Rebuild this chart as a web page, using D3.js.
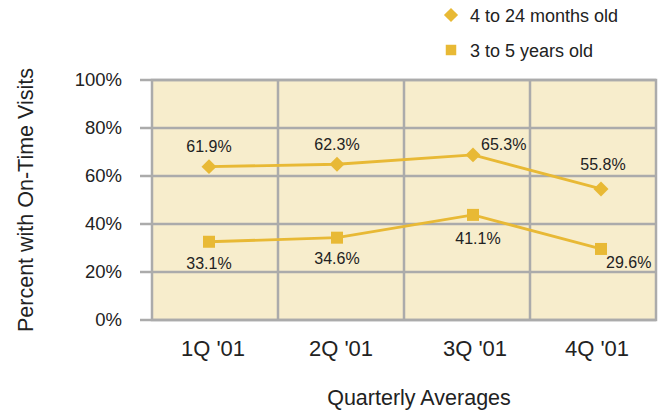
<!DOCTYPE html>
<html>
<head>
<meta charset="utf-8">
<script src="https://cdn.jsdelivr.net/npm/d3@7"></script>
<style>
  body { margin: 0; background: #fff; }
  text { font-family: "Liberation Sans", Arial, sans-serif; fill: #222; }
</style>
</head>
<body>
<svg id="chart" width="661" height="412"></svg>
<script>
// ============ data ============
const quarters = ["1Q '01", "2Q '01", "3Q '01", "4Q '01"];
// plotted positions
const infants = [63.9, 64.9, 68.8, 54.6];
const preschool = [32.6, 34.3, 43.8, 29.6];
// printed value labels
const infantLabels = ["61.9%", "62.3%", "65.3%", "55.8%"];
const preschoolLabels = ["33.1%", "34.6%", "41.1%", "29.6%"];
const yTicks = [0, 20, 40, 60, 80, 100];

// ============ layout ============
const plotLeft = 152, plotRight = 656, plotTop = 80, plotBottom = 320;
const lineColor = '#E8B935';
const gridColor = '#ABABAB';

const svg = d3.select('#chart');

const x = d3.scaleBand().domain(quarters).range([plotLeft, plotRight]);
const y = d3.scaleLinear().domain([0, 100]).range([plotBottom, plotTop]);

// plot background
svg.append('rect')
  .attr('x', plotLeft).attr('y', plotTop)
  .attr('width', plotRight - plotLeft).attr('height', plotBottom - plotTop)
  .attr('fill', '#F7EDCC');

// horizontal grid + left ticks
svg.append('g')
  .selectAll('line')
  .data(yTicks)
  .join('line')
  .attr('x1', plotLeft - 12).attr('x2', plotRight)
  .attr('y1', d => y(d)).attr('y2', d => y(d))
  .attr('stroke', gridColor).attr('stroke-width', 2.5);

// vertical grid
svg.append('g')
  .selectAll('line')
  .data(quarters.slice(1))
  .join('line')
  .attr('x1', d => x(d)).attr('x2', d => x(d))
  .attr('y1', plotTop).attr('y2', plotBottom)
  .attr('stroke', gridColor).attr('stroke-width', 2.5);

// frame
svg.append('rect')
  .attr('x', plotLeft).attr('y', plotTop)
  .attr('width', plotRight - plotLeft).attr('height', plotBottom - plotTop)
  .attr('fill', 'none')
  .attr('stroke', gridColor).attr('stroke-width', 2.5);

// y tick labels
svg.append('g')
  .selectAll('text')
  .data(yTicks)
  .join('text')
  .attr('x', 122)
  .attr('y', d => y(d) + 6)
  .attr('text-anchor', 'end')
  .attr('font-size', 18.5)
  .text(d => d + '%');

// x tick labels
svg.append('g')
  .selectAll('text')
  .data(quarters)
  .join('text')
  .attr('x', (d, i) => x(d) + x.bandwidth() / 2 + [-2, 0, 8, 4][i])
  .attr('y', 356)
  .attr('text-anchor', 'middle')
  .attr('font-size', 22)
  .text(d => d);

// axis titles
svg.append('text')
  .attr('x', 419).attr('y', 405)
  .attr('text-anchor', 'middle')
  .attr('font-size', 21.5)
  .text('Quarterly Averages');

svg.append('text')
  .attr('transform', 'translate(33,200) rotate(-90)')
  .attr('text-anchor', 'middle')
  .attr('font-size', 21.5)
  .text('Percent with On-Time Visits');

// ============ series ============
const cx = (d, i) => x(quarters[i]) + x.bandwidth() / 2 + [-6, -4, 6, 8][i];
const line = d3.line().x(cx).y(d => y(d));

// diamond = square turned 45°
function marker(kind, size) {
  return d3.symbol().type(d3.symbolSquare).size(size)();
}

function drawSeries(values, kind, size) {
  svg.append('path')
    .datum(values)
    .attr('d', line)
    .attr('fill', 'none')
    .attr('stroke', lineColor)
    .attr('stroke-width', 2.8);

  svg.append('g')
    .selectAll('path')
    .data(values)
    .join('path')
    .attr('transform', (d, i) => `translate(${cx(d, i)},${y(d)})` + (kind === 'diamond' ? ' rotate(45)' : ''))
    .attr('d', marker(kind, size))
    .attr('fill', lineColor);
}

drawSeries(infants, 'diamond', 112);
drawSeries(preschool, 'square', 144);

// value labels
const infantOffsets = [[0, -15, 'middle'], [0, -14, 'middle'], [8, -5, 'start'], [2, -19, 'middle']];
const preschoolOffsets = [[0, 27, 'middle'], [0, 26, 'middle'], [5, 29, 'middle'], [5, 19, 'start']];

function drawLabels(values, labels, offsets) {
  svg.append('g')
    .selectAll('text')
    .data(values)
    .join('text')
    .attr('x', (d, i) => cx(d, i) + offsets[i][0])
    .attr('y', (d, i) => y(d) + offsets[i][1])
    .attr('text-anchor', (d, i) => offsets[i][2])
    .attr('font-size', 16)
    .text((d, i) => labels[i]);
}

drawLabels(infants, infantLabels, infantOffsets);
drawLabels(preschool, preschoolLabels, preschoolOffsets);

// ============ legend ============
const legend = [
  { name: '4 to 24 months old', kind: 'diamond', size: 100, y: 15 },
  { name: '3 to 5 years old', kind: 'square', size: 110, y: 50 }
];

const lg = svg.append('g')
  .selectAll('g')
  .data(legend)
  .join('g')
  .attr('transform', d => `translate(451,${d.y})`);

lg.append('path')
  .attr('d', d => marker(d.kind, d.size))
  .attr('transform', d => d.kind === 'diamond' ? 'rotate(45)' : null)
  .attr('fill', lineColor);

lg.append('text')
  .attr('x', 19).attr('y', 7)
  .attr('font-size', 18)
  .text(d => d.name);
</script>
</body>
</html>
